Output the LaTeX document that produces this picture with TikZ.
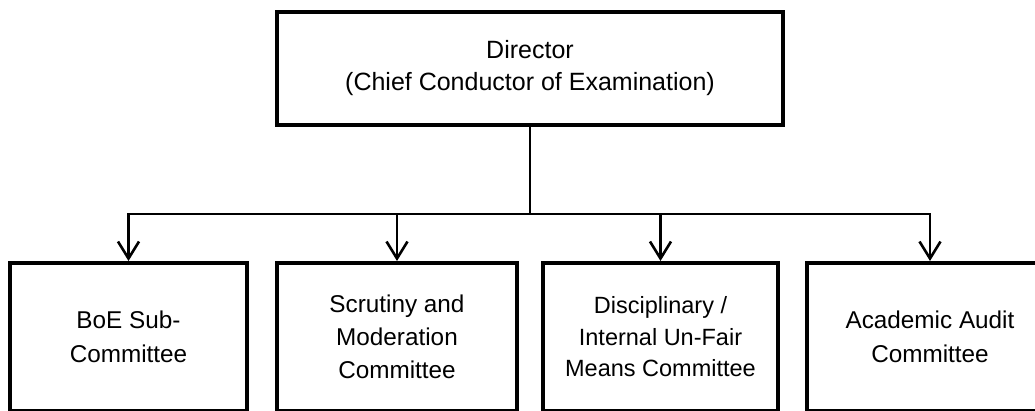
\documentclass[tikz,border=0pt]{standalone}
\usepackage{fontspec}
\setmainfont{Liberation Sans}
\usepackage{tikz}
\usetikzlibrary{arrows.meta,positioning}

\begin{document}
\begin{tikzpicture}[
  x=1pt, y=-1pt,
  >={Straight Barb[length=17pt,width=21pt,line width=2.6pt]},
  unit/.style={draw, line width=4pt, align=center, inner sep=0pt,
    minimum width=#1, minimum height=148pt, fill=white},
  head/.style={draw, line width=4pt, align=center, inner sep=0pt,
    minimum width=506pt, minimum height=113pt},
  link/.style={line width=2.4pt},
  arr/.style={->, line width=2.4pt},
  every node/.style={font=\fontsize{24.3}{34}\selectfont}
]
\useasboundingbox (0,0) rectangle (1035,411);

\node[head, font=\fontsize{25}{32}\selectfont] (dir) at (530,68.5) {Director\\(Chief Conductor of Examination)};

\node[unit=237pt] (boe) at (128.5,337) {BoE Sub-\\Committee};
\node[unit=240pt, font=\fontsize{24.3}{33}\selectfont] (scr) at (397,337) {Scrutiny and\\Moderation\\Committee};
\node[unit=235pt, font=\fontsize{23.5}{31.5}\selectfont] (dis) at (660.5,337) {Disciplinary /\\Internal Un-Fair\\Means Committee};
\node[unit=246pt] (aca) at (930,337) {Academic Audit\\Committee};

% branch point under the director box
\coordinate (fork) at (530,214);
\draw[link] (dir) -- (fork);
\foreach \b in {boe,scr,dis,aca}
  \draw[arr] (fork) -| (\b.north);
\end{tikzpicture}
\end{document}
